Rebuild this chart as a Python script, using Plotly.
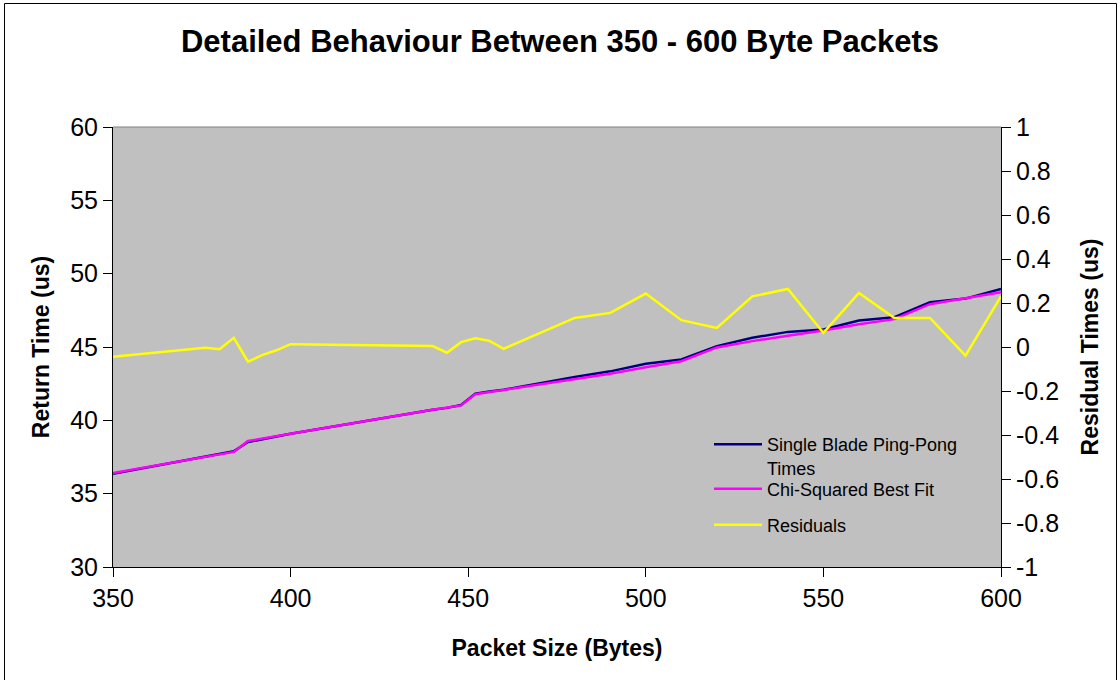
import plotly.graph_objects as go

# ---- data ----
packet_size = [350, 376, 380, 384, 388, 392, 396, 400, 440, 444, 448, 452, 456, 460,
               480, 490, 500, 510, 520, 530, 540, 550, 560, 570, 580, 590, 600]
ping_pong_times = [36.36, 37.50, 37.67, 37.89, 38.52, 38.71, 38.90, 39.09, 40.72, 40.85,
                   41.04, 41.82, 41.96, 42.09, 42.96, 43.34, 43.86, 44.15, 45.06, 45.63,
                   46.03, 46.19, 46.80, 47.03, 48.05, 48.30, 48.96]
best_fit = [36.40, 37.51, 37.68, 37.85, 38.59, 38.75, 38.92, 39.08, 40.72, 40.88,
            41.02, 41.78, 41.93, 42.10, 42.83, 43.18, 43.62, 44.03, 44.97, 45.40,
            45.77, 46.13, 46.55, 46.90, 47.92, 48.34, 48.73]
residuals = [-0.044, -0.004, -0.010, 0.042, -0.067, -0.037, -0.015, 0.013, 0.004, -0.026,
             0.022, 0.040, 0.028, -0.008, 0.132, 0.155, 0.243, 0.122, 0.087, 0.230,
             0.264, 0.064, 0.246, 0.132, 0.132, -0.039, 0.230]

x_ticks = [350, 400, 450, 500, 550, 600]
y_ticks = [30, 35, 40, 45, 50, 55, 60]
y2_ticks = [-1, -0.8, -0.6, -0.4, -0.2, 0, 0.2, 0.4, 0.6, 0.8, 1]
y2_labels = ["-1", "-0.8", "-0.6", "-0.4", "-0.2", "0", "0.2", "0.4", "0.6", "0.8", "1"]

FONT = "Liberation Sans, Arial, sans-serif"
W, H = 1120, 680
L, R, T, B = 113, 119, 127, 113
pw, ph = W - L - R, H - T - B


def px_x(p):
    return (p - L) / pw


def px_y(p):
    return (H - B - p) / ph


fig = go.Figure()
fig.add_trace(go.Scatter(x=packet_size, y=ping_pong_times, mode="lines",
                         name="Single Blade Ping-Pong<br>Times", legend="legend",
                         line=dict(color="#000080", width=2.5)))
fig.add_trace(go.Scatter(x=packet_size, y=best_fit, mode="lines",
                         name="Chi-Squared Best Fit", legend="legend2",
                         line=dict(color="#FF00FF", width=2.5)))
fig.add_trace(go.Scatter(x=packet_size, y=residuals, mode="lines",
                         name="Residuals", yaxis="y2", legend="legend3",
                         line=dict(color="#FFFF00", width=2.5)))

legend_common = dict(xanchor="left", yanchor="middle", bgcolor="rgba(0,0,0,0)",
                     borderwidth=0, valign="top", itemwidth=48,
                     font=dict(size=18, family=FONT, color="black"))

axis_common = dict(ticks="outside", ticklen=9, tickcolor="black", tickwidth=1,
                   showline=True, linecolor="black", linewidth=1, showgrid=False,
                   zeroline=False, tickfont=dict(size=25, family=FONT, color="black"))

fig.update_layout(
    width=W, height=H,
    margin=dict(l=L, r=R, t=T, b=B, autoexpand=False),
    paper_bgcolor="white",
    plot_bgcolor="#C0C0C0",
    font=dict(family=FONT, color="black"),
    title=dict(text="<b>Detailed Behaviour Between 350 - 600 Byte Packets</b>",
               x=0.5, xanchor="center", y=1 - 41 / H, yanchor="middle",
               font=dict(size=31, family=FONT, color="black")),
    xaxis=dict(range=[350, 600], tickvals=x_ticks, **axis_common,
               title=dict(text="<b>Packet Size (Bytes)</b>", font=dict(size=23), standoff=28)),
    yaxis=dict(range=[30, 60], tickvals=y_ticks, **axis_common,
               title=dict(text="<b>Return Time (us)</b>", font=dict(size=23), standoff=14)),
    yaxis2=dict(range=[-1, 1], tickvals=y2_ticks, ticktext=y2_labels, overlaying="y",
                side="right", **axis_common,
                title=dict(text="<b>Residual Times (us)</b>", font=dict(size=23), standoff=23)),
    yaxis3=dict(range=[-1, 1], tickvals=y2_ticks, overlaying="y", side="right",
                anchor="x", ticks="inside", ticklen=10, tickcolor="black",
                showticklabels=False, showline=False, showgrid=False, zeroline=False),
    legend=dict(x=px_x(709), y=px_y(456), **legend_common),
    legend2=dict(x=px_x(709), y=px_y(489), **legend_common),
    legend3=dict(x=px_x(709), y=px_y(525), **legend_common),
    showlegend=True,
)

# plot-area top border (grey) and outer chart frame
fig.add_shape(type="line", xref="paper", yref="paper", x0=0, x1=1, y0=1, y1=1,
              line=dict(color="#808080", width=1))
fig.add_shape(type="rect", xref="paper", yref="paper",
              x0=px_x(4.5), x1=px_x(1116.5), y0=px_y(690), y1=px_y(3.5),
              line=dict(color="black", width=1), layer="below")

fig.write_html("out.html", config={"displayModeBar": False},
               post_script="document.body.style.margin='0';")
